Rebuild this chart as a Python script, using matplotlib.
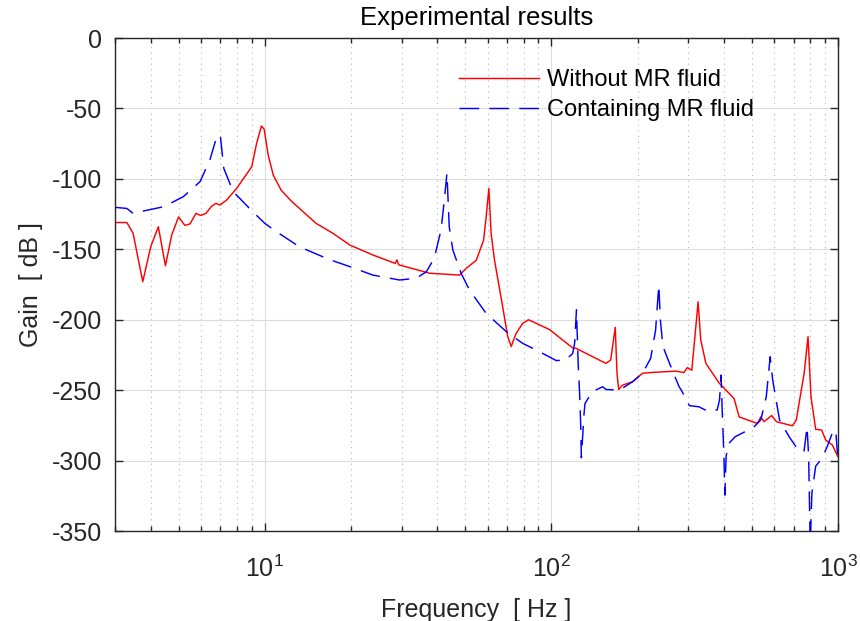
import matplotlib
matplotlib.use("Agg")
import matplotlib.pyplot as plt
from matplotlib.ticker import LogLocator, NullFormatter

plt.rcParams["font.family"] = ["Liberation Sans", "DejaVu Sans"]
plt.rcParams["mathtext.fontset"] = "custom"
plt.rcParams["mathtext.rm"] = "Liberation Sans"
plt.rcParams["mathtext.it"] = "Liberation Sans:italic"

# Frequency response without MR fluid
freq_without = [3.0, 3.3, 3.47, 3.75, 4.0, 4.25, 4.5, 4.73, 5.0, 5.26, 5.48, 5.75,
                5.97, 6.23, 6.52, 6.75, 6.97, 7.36, 7.97, 8.51, 9.0, 9.36, 9.73,
                9.95, 10.27, 10.7, 11.4, 12.4, 13.6, 15.1, 17.3, 19.8, 23.8, 28.5,
                28.9, 29.3, 37.6, 47.8, 50.4, 54.7, 58.0, 59.2, 60.5, 61.6, 63.3,
                67.6, 70.4, 72.4, 75.3, 79.4, 83.2, 98.5, 118.6, 121.9, 155.0,
                161.0, 167.0, 169.4, 171.7, 177.0, 192.0, 208.0, 225.0, 272.0,
                290.0, 298.0, 309.0, 316.0, 325.0, 332.0, 346.0, 385.0, 434.0,
                452.0, 503.0, 523.0, 538.0, 552.0, 587.0, 610.0, 693.0, 715.0,
                762.0, 786.0, 805.0, 836.0, 877.0, 906.0, 956.0, 1000.0]
gain_without = [-131, -131, -138.6, -173, -148, -134, -161.7, -140, -127, -133, -132,
                -124.5, -126, -124.5, -119.4, -117.4, -118.6, -115, -106.8, -98.5,
                -91.4, -74.8, -62.5, -64.8, -83, -97.3, -108, -116, -123.3, -131.6,
                -138.7, -147, -154, -160, -157.5, -161, -167, -168.3, -163.6,
                -157.7, -143.5, -127, -106.8, -138.7, -157.7, -190.8, -212, -219,
                -209.7, -202.6, -200, -207, -220, -220.3, -231, -228.6, -205.4,
                -238, -249.5, -246.5, -244, -238, -237.4, -236.5, -237.5, -234,
                -235.8, -214.4, -187.3, -214.4, -231, -245, -256, -269, -272.4,
                -273.6, -269, -272.4, -268, -272.4, -275.3, -271.3, -238, -212,
                -254.7, -277.8, -278.3, -285.4, -289, -297.3]

# Frequency response containing MR fluid
freq_with = [3.0, 3.3, 3.47, 3.77, 4.43, 5.19, 5.94, 6.43, 6.82, 7.0, 7.19, 7.75,
             9.0, 10.0, 10.98, 13.2, 16.8, 19.8, 23.8, 29.5, 33.7, 36.6, 39.0, 41.2,
             42.3, 43.2, 44.0, 45.3, 48.4, 51.8, 59.2, 69.7, 79.4, 88.5, 104.0,
             112.0, 118.6, 120.5, 122.3, 124.0, 125.5, 126.6, 127.2, 130.0, 131.0,
             139.0, 151.0, 155.0, 172.6, 192.0, 208.0, 222.0, 231.0, 237.0, 240.0,
             245.0, 253.0, 264.0, 279.0, 284.0, 303.0, 327.0, 354.0, 379.0, 386.0,
             391.0, 394.0, 400.0, 403.0, 407.0, 416.0, 438.0, 474.0, 510.0, 538.0,
             562.0, 580.0, 592.0, 625.0, 675.0, 727.0, 761.0, 780.0, 790.0, 800.0,
             811.0, 836.0, 880.0, 915.0, 966.0, 985.0, 1000.0]
gain_with = [-120.2, -121, -124.5, -122.8, -119.8, -112.7, -102, -86.6, -68.9, -70,
             -92.5, -109, -122.6, -131.6, -137.5, -148.2, -157.3, -162.3, -168.3,
             -171.8, -170.6, -166, -156.4, -136.3, -115, -96, -134, -150.5, -167,
             -179, -195.5, -208.6, -216.8, -221.5, -229, -228.6, -224, -216.8, -193,
             -231, -253.5, -276, -298, -266.5, -259.4, -251, -247.6, -249.5, -250,
             -244, -238, -227.4, -207.3, -175.4, -200.2, -219, -226.3, -235.7,
             -247.6, -250, -261, -261.8, -265.3, -264, -257, -239.3, -261.8, -297.3,
             -324.5, -297, -287.8, -283, -279.5, -276, -271, -254.7, -226.3, -243,
             -271, -283, -292.5, -293.7, -276, -297, -360, -323, -304, -298.3,
             -290.5, -278, -282, -300]

xticks = [10, 100, 1000]
yticks = list(range(-350, 1, 50))

fig = plt.figure(figsize=(8.6, 6.21), dpi=100)
ax = fig.add_axes([0.1337, 0.1449, 0.8407, 0.7939])

ax.plot(freq_without, gain_without, color="#ff0000", lw=1.05, label="Without MR fluid")
ax.plot(freq_with, gain_with, color="#0000ff", lw=1.05, dashes=(13.5, 7),
        label="Containing MR fluid")

ax.set_xscale("log")
ax.set_xlim(3, 1000)
ax.set_ylim(-350, 0)
ax.set_xticks(xticks)
ax.xaxis.set_minor_locator(LogLocator(base=10, subs=range(2, 10)))
ax.xaxis.set_minor_formatter(NullFormatter())
ax.set_yticks(yticks)
ax.set_yticklabels([str(v) for v in yticks])

ax.grid(True, which="major", color="#dcdcdc", lw=0.8, ls="-")
ax.grid(True, which="minor", axis="x", color="#b4b4b4", lw=0.8, ls=(0, (1, 4)))
ax.set_axisbelow(True)

ax.tick_params(which="both", direction="in", top=True, right=True,
               color="#262626", labelcolor="#262626", labelsize=18)
ax.tick_params(which="major", length=6, width=1.0)
ax.tick_params(which="minor", length=3.5, width=1.0)
ax.tick_params(axis="x", pad=17.5)
ax.tick_params(axis="y", pad=9)
for s in ax.spines.values():
    s.set_color("#262626")
    s.set_linewidth(1.0)

ax.set_title("Experimental results", fontsize=18.5, color="#000000", pad=9.4)
ax.set_xlabel("Frequency  [ Hz ]", fontsize=18, color="#262626", labelpad=12)
ax.set_ylabel("Gain  [ dB ]", fontsize=18, color="#262626", labelpad=6.5)

leg = ax.legend(loc="upper left", bbox_to_anchor=(0.463, 0.956), frameon=False,
                fontsize=17, handlelength=3.4, handletextpad=0.3, labelspacing=0.33,
                borderaxespad=0)

fig.savefig("out.png", dpi=100)
